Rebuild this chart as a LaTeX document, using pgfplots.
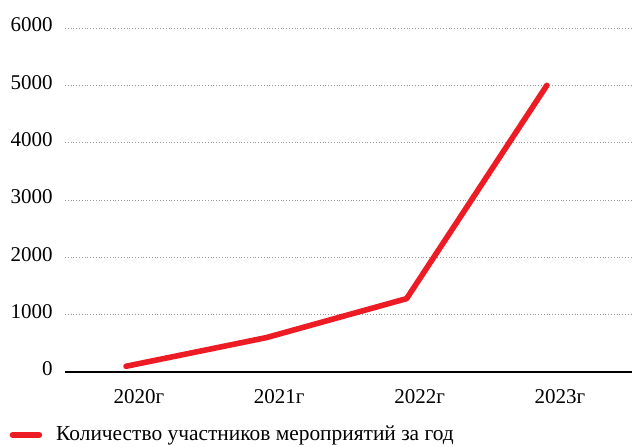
\documentclass[border=0pt]{standalone}
\usepackage{fontspec}
\setmainfont{Liberation Serif}
\usepackage{pgfplots}
\pgfplotsset{compat=1.18}
\definecolor{lred}{RGB}{237,28,36}
\begin{document}
\fontsize{10.5}{12}\selectfont
\begin{tikzpicture}
\begin{axis}[
  at={(0,0)}, anchor=south west,
  scale only axis, width=283.5pt, height=172pt,
  xmin=-0.435, xmax=3.607, ymin=0, ymax=6000,
  axis x line*=bottom, axis y line*=left,
  y axis line style={draw=none},
  x axis line style={black, line width=0.7pt},
  ytick={0,1000,...,6000},
  ymajorgrids,
  major grid style={gray!80, densely dotted, line width=0.4pt},
  xtick={0,1,2,3},
  xticklabels={2020г,2021г,2022г,2023г},
  major tick length=0pt,
  /pgf/number format/assume math mode=true,
  /pgf/number format/1000 sep={},
  xticklabel style={xshift=6.5pt, yshift=-5pt, font=\fontsize{10.5}{12}\selectfont\rmfamily},
  yticklabel style={xshift=-2.5pt, yshift=1.5pt, font=\fontsize{10.5}{12}\selectfont\rmfamily},
  legend style={at={(-0.109,-0.183)}, anchor=west, draw=none, fill=none,
    font=\fontsize{10.7}{12}\selectfont},
  legend cell align=left,
  legend image code/.code={\draw[lred, line width=3.3pt, line cap=round] (0pt,0pt) -- (13pt,0pt);},
]
\addplot[lred, line width=2.8pt, line join=round, line cap=round]
  coordinates {(0,100) (1,600) (2,1280) (3,5000)};
\addlegendentry{\hspace{5pt}Количество участников мероприятий за год}
\end{axis}
\pgfresetboundingbox
\path[use as bounding box] (-32.5pt,-37pt) rectangle (285.5pt,186pt);
\end{tikzpicture}
\end{document}
